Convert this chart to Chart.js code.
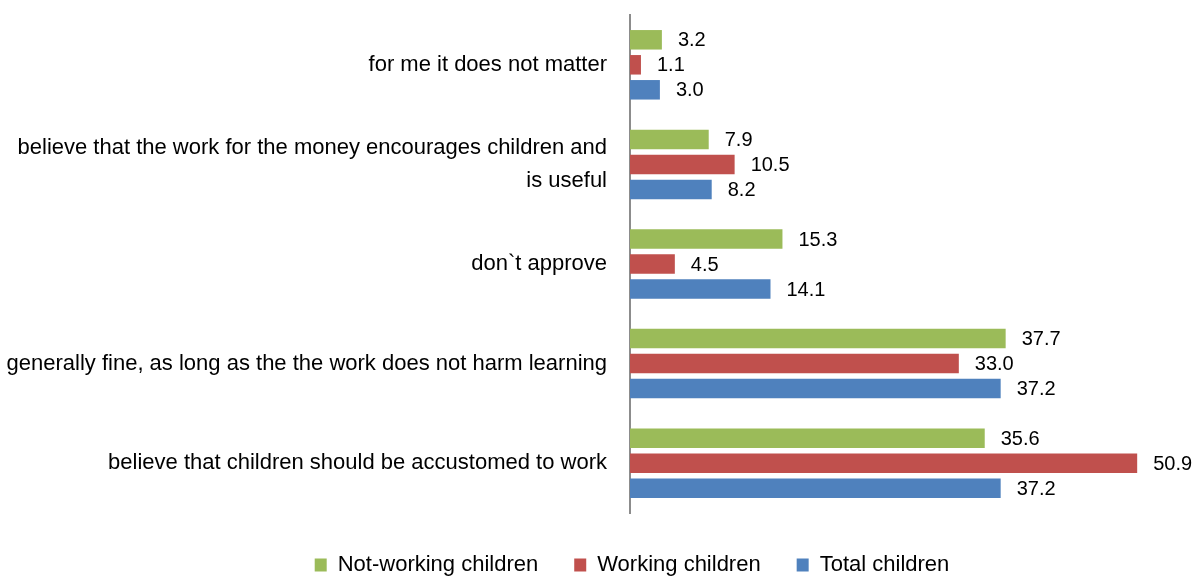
<!DOCTYPE html>
<html>
<head>
<meta charset="utf-8">
<script src="https://cdn.jsdelivr.net/npm/chart.js@4/dist/chart.umd.min.js"></script>
<style>
  html, body { margin: 0; padding: 0; background: #fff; }
  #wrap { width: 1193px; height: 576px; position: relative; }
</style>
</head>
<body>
<div id="wrap"><canvas id="c"></canvas></div>
<script>
const categories = [
  "for me it does not matter",
  ["believe that the work for the money encourages children and", "is useful"],
  "don`t approve",
  "generally fine, as long as the the work does not harm learning",
  "believe that children should be accustomed to work"
];
const seriesNames = ["Not-working children", "Working children", "Total children"];
const notWorking = [3.2, 7.9, 15.3, 37.7, 35.6];
const working = [1.1, 10.5, 4.5, 33.0, 50.9];
const total = [3.0, 8.2, 14.1, 37.2, 37.2];
const colors = ["#9BBB59", "#C0504D", "#4F81BD"];

const FONT = "'Liberation Sans', Arial, sans-serif";

const valueLabels = {
  id: 'valueLabels',
  afterDatasetsDraw(chart) {
    const ctx = chart.ctx;
    ctx.save();
    ctx.font = "20px " + FONT;
    ctx.fillStyle = "#000";
    ctx.textAlign = "left";
    ctx.textBaseline = "middle";
    chart.data.datasets.forEach((ds, di) => {
      chart.getDatasetMeta(di).data.forEach((bar, i) => {
        ctx.fillText(ds.data[i].toFixed(1), bar.x + 16, bar.y + 1);
      });
    });
    ctx.restore();
  }
};

const shiftLegend = {
  id: 'shiftLegend',
  afterLayout(chart) {
    if (chart.legend) {
      chart.legend.left += 38;
      chart.legend.right += 38;
    }
  }
};

new Chart(document.getElementById('c'), {
  type: 'bar',
  data: {
    labels: categories,
    datasets: [
      { label: seriesNames[0], data: notWorking, backgroundColor: colors[0] },
      { label: seriesNames[1], data: working, backgroundColor: colors[1] },
      { label: seriesNames[2], data: total, backgroundColor: colors[2] }
    ]
  },
  options: {
    indexAxis: 'y',
    responsive: true,
    maintainAspectRatio: false,
    animation: false,
    datasets: { bar: { categoryPercentage: 0.753, barPercentage: 0.78 } },
    layout: { padding: { top: 15, right: 5, left: 0, bottom: -10 } },
    scales: {
      x: {
        min: 0, max: 56,
        ticks: { display: false },
        grid: { display: false },
        border: { display: false },
        afterFit: s => { s.height = 5; s.paddingLeft = 0; s.paddingRight = 0; }
      },
      y: {
        grid: { display: false },
        border: { display: true, color: '#8C8C8C', width: 2 },
        ticks: { color: '#000', font: { family: FONT, size: 22, lineHeight: 1.5 }, padding: 15, autoSkip: false },
        afterFit: s => { s.width = 630; s.paddingTop = 0; s.paddingBottom = 0; }
      }
    },
    plugins: {
      legend: {
        position: 'bottom',
        labels: {
          color: '#000',
          font: { family: FONT, size: 22 },
          boxWidth: 12, boxHeight: 13,
          padding: 36
        }
      },
      tooltip: { enabled: false }
    }
  },
  plugins: [valueLabels, shiftLegend]
});
</script>
</body>
</html>
